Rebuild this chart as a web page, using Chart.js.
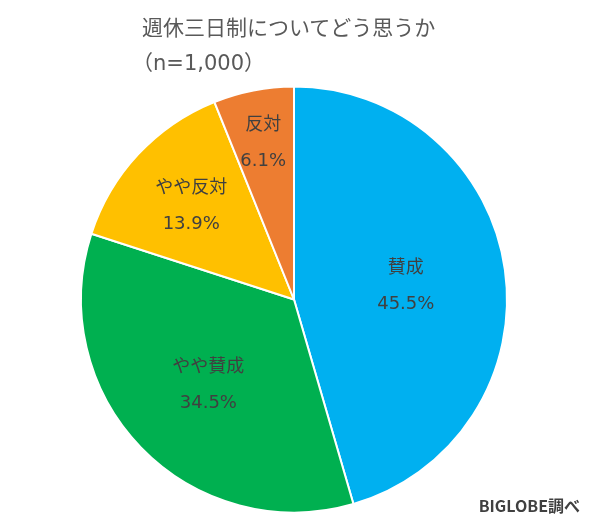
<!DOCTYPE html>
<html>
<head>
<meta charset="utf-8">
<script src="https://cdn.jsdelivr.net/npm/chart.js@4"></script>
<style>
  html, body { margin: 0; padding: 0; background: #fff; }
  #wrap { position: relative; width: 590px; height: 527px; }
  .title { position: absolute; color: #595959; white-space: nowrap;
           font-family: "DejaVu Sans", "Noto Sans CJK JP", sans-serif; font-size: 21px; line-height: 34px; }
  #title1 { left: 142px; top: 11px; }
  #title2 { left: 132px; top: 46px; }
  #source { position: absolute; right: 10px; top: 493px; color: #404040;
            font-family: "Noto Sans CJK JP", sans-serif; font-weight: bold; font-size: 16px; }
</style>
</head>
<body>
<div id="wrap">
  <canvas id="pie" width="590" height="527"></canvas>
  <div class="title" id="title1">週休三日制についてどう思うか</div>
  <div class="title" id="title2">（n=1,000）</div>
  <div id="source">BIGLOBE調べ</div>
</div>
<script>
const categories = ['賛成', 'やや賛成', 'やや反対', '反対'];
const values = [45.5, 34.5, 13.9, 6.1];
const colors = ['#00B0F0', '#00B050', '#FFC000', '#ED7D31'];

// label distance from centre, as a share of the radius, per slice
const labelRadius = [0.53, 0.56, 0.66, 0.76];

const sliceLabels = {
    id: 'sliceLabels',
    afterDatasetsDraw(chart) {
        const ctx = chart.ctx;
        const arcs = chart.getDatasetMeta(0).data;
        ctx.save();
        ctx.fillStyle = '#404040';
        ctx.font = '18px "DejaVu Sans", "Noto Sans CJK JP", sans-serif';
        ctx.textAlign = 'center';
        ctx.textBaseline = 'middle';
        arcs.forEach(function(arc, i) {
            const mid = (arc.startAngle + arc.endAngle) / 2;
            const r = arc.outerRadius * labelRadius[i];
            const x = arc.x + Math.cos(mid) * r;
            const y = arc.y + Math.sin(mid) * r;
            ctx.fillText(categories[i], x, y - 15);
            ctx.fillText(values[i].toFixed(1) + '%', x, y + 21);
        });
        ctx.restore();
    }
};

new Chart(document.getElementById('pie'), {
    type: 'pie',
    data: {
        labels: categories,
        datasets: [{
            data: values,
            backgroundColor: colors,
            borderColor: '#ffffff',
            borderWidth: 2
        }]
    },
    options: {
        responsive: false,
        animation: false,
        layout: {
            padding: { top: 85, bottom: 13, left: 80, right: 82 }
        },
        plugins: {
            legend: { display: false },
            tooltip: { enabled: false }
        }
    },
    plugins: [sliceLabels]
});
</script>
</body>
</html>
